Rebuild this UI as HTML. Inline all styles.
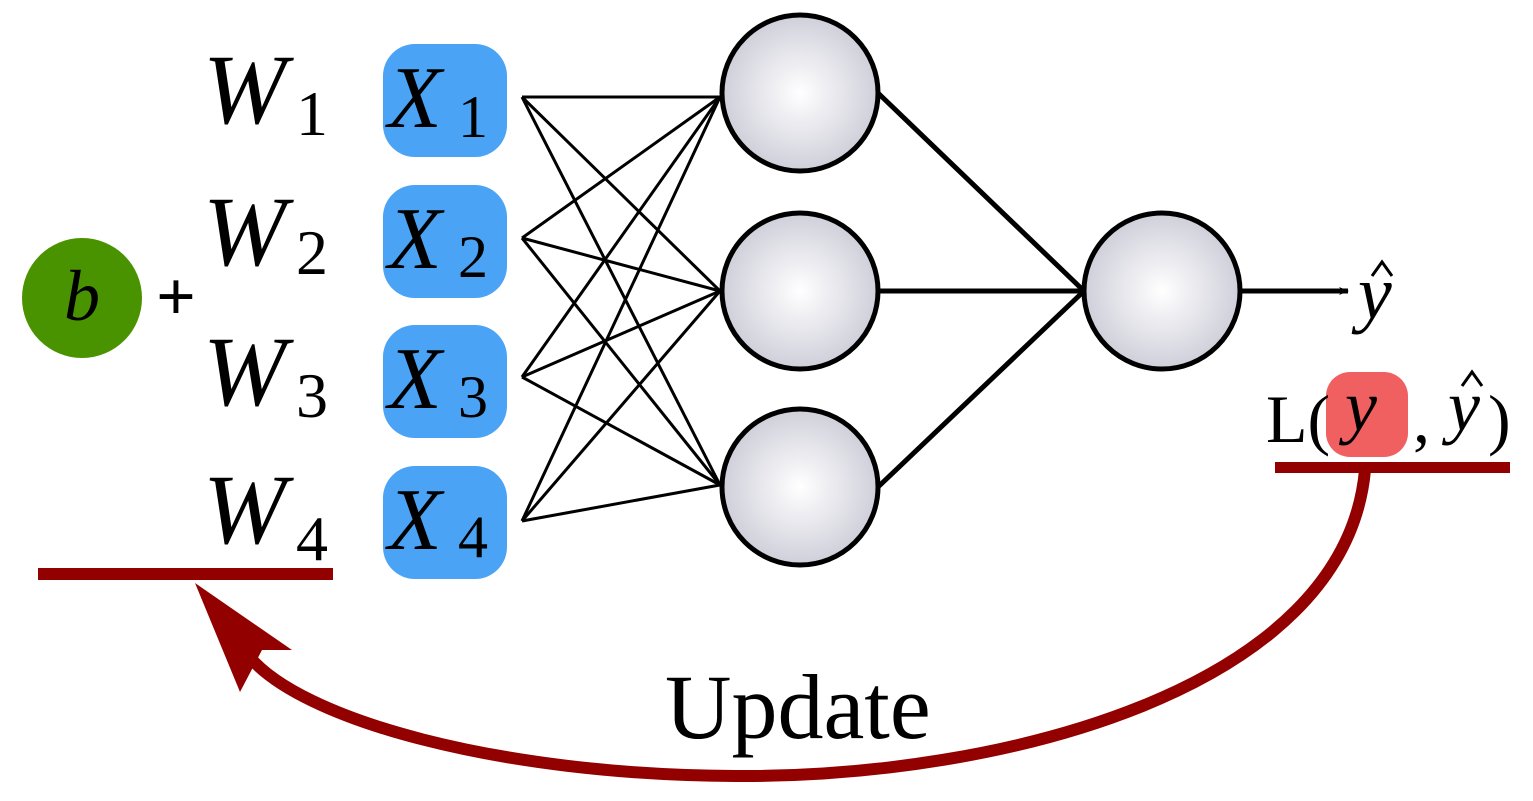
<!DOCTYPE html>
<html><head><meta charset="utf-8"><style>
html,body{margin:0;padding:0;background:#fff;}
svg{display:block;}
text{font-family:"Liberation Serif",serif;fill:#000;}
</style></head><body>
<svg width="1533" height="801" viewBox="0 0 1533 801" xmlns="http://www.w3.org/2000/svg">
<defs>
<radialGradient id="g" cx="0.5" cy="0.5" r="0.5">
<stop offset="0" stop-color="#ffffff"/>
<stop offset="1" stop-color="#cfcfda"/>
</radialGradient>
<marker id="ar" markerWidth="10" markerHeight="8" refX="9" refY="4" orient="auto" markerUnits="userSpaceOnUse">
<path d="M0,0 L10,4 L0,8 L3,4 Z" fill="#000"/>
</marker>
</defs>
<g stroke="#000" stroke-width="3" fill="none">
<line x1="522" y1="97" x2="720" y2="97"/><line x1="522" y1="97" x2="720" y2="291"/><line x1="522" y1="97" x2="720" y2="485"/>
<line x1="522" y1="238" x2="720" y2="97"/><line x1="522" y1="238" x2="720" y2="291"/><line x1="522" y1="238" x2="720" y2="485"/>
<line x1="522" y1="377" x2="720" y2="97"/><line x1="522" y1="377" x2="720" y2="291"/><line x1="522" y1="377" x2="720" y2="485"/>
<line x1="522" y1="521" x2="720" y2="97"/><line x1="522" y1="521" x2="720" y2="291"/><line x1="522" y1="521" x2="720" y2="485"/>
</g>
<g stroke="#000" stroke-width="5" fill="none">
<line x1="878" y1="93" x2="1084" y2="291"/><line x1="878" y1="291" x2="1084" y2="291"/><line x1="878" y1="487" x2="1084" y2="291"/>
<line x1="1240" y1="291" x2="1348" y2="291" marker-end="url(#ar)"/>
</g>
<g stroke="#000" stroke-width="5" fill="url(#g)">
<circle cx="800" cy="93" r="78"/><circle cx="800" cy="291" r="78"/><circle cx="800" cy="487" r="78"/>
<circle cx="1162" cy="291" r="78"/>
</g>
<g fill="#4aa3f5">
<rect x="383" y="44" width="124" height="113" rx="32"/>
<rect x="383" y="185" width="124" height="113" rx="32"/>
<rect x="383" y="325" width="124" height="113" rx="32"/>
<rect x="383" y="466" width="124" height="113" rx="32"/>
</g>
<g font-size="88" font-style="italic">
<text x="388" y="127">X</text><text x="388" y="268">X</text><text x="388" y="408">X</text><text x="388" y="549">X</text>
</g>
<g font-size="60">
<text x="458" y="137">1</text><text x="458" y="277">2</text><text x="458" y="417">3</text><text x="458" y="557">4</text>
</g>
<g font-size="100" font-style="italic">
<text x="203" y="123">W</text><text x="203" y="265">W</text><text x="203" y="405">W</text><text x="203" y="543">W</text>
</g>
<g font-size="64">
<text x="296" y="135">1</text><text x="296" y="274">2</text><text x="296" y="417">3</text><text x="296" y="560">4</text>
</g>
<circle cx="82" cy="298" r="60" fill="#4a9300"/>
<text x="64" y="320" font-size="72" font-style="italic">b</text>
<text x="156" y="320" font-size="70" font-family="Liberation Sans" font-weight="bold">+</text>
<text x="1358" y="318" font-size="76" font-style="italic">y</text>
<path d="M1372,276 L1382,262 L1392,276" stroke="#000" stroke-width="3" fill="none"/>
<rect x="1326" y="372" width="82" height="85" rx="24" fill="#f06060"/>
<text x="1266" y="442" font-size="68">L(</text>
<text x="1345" y="430" font-size="72" font-style="italic">y</text>
<text x="1413" y="442" font-size="68">,</text>
<text x="1448" y="430" font-size="72" font-style="italic">y</text>
<path d="M1462,386 L1472,372 L1482,386" stroke="#000" stroke-width="3" fill="none"/>
<text x="1488" y="442" font-size="68">)</text>
<g fill="#930000">
<rect x="1275" y="462" width="235" height="11"/>
<rect x="38" y="568" width="295" height="12"/>
</g>
<path d="M1365,470 C1345,690 1000,778 735,776 C500,775 300,720 248,655" stroke="#930000" stroke-width="12" fill="none"/>
<path d="M195,583 L292,650 L262,650 L240,692 Z" fill="#930000"/>
<text x="665" y="738" font-size="92">Update</text>
</svg>
</body></html>
